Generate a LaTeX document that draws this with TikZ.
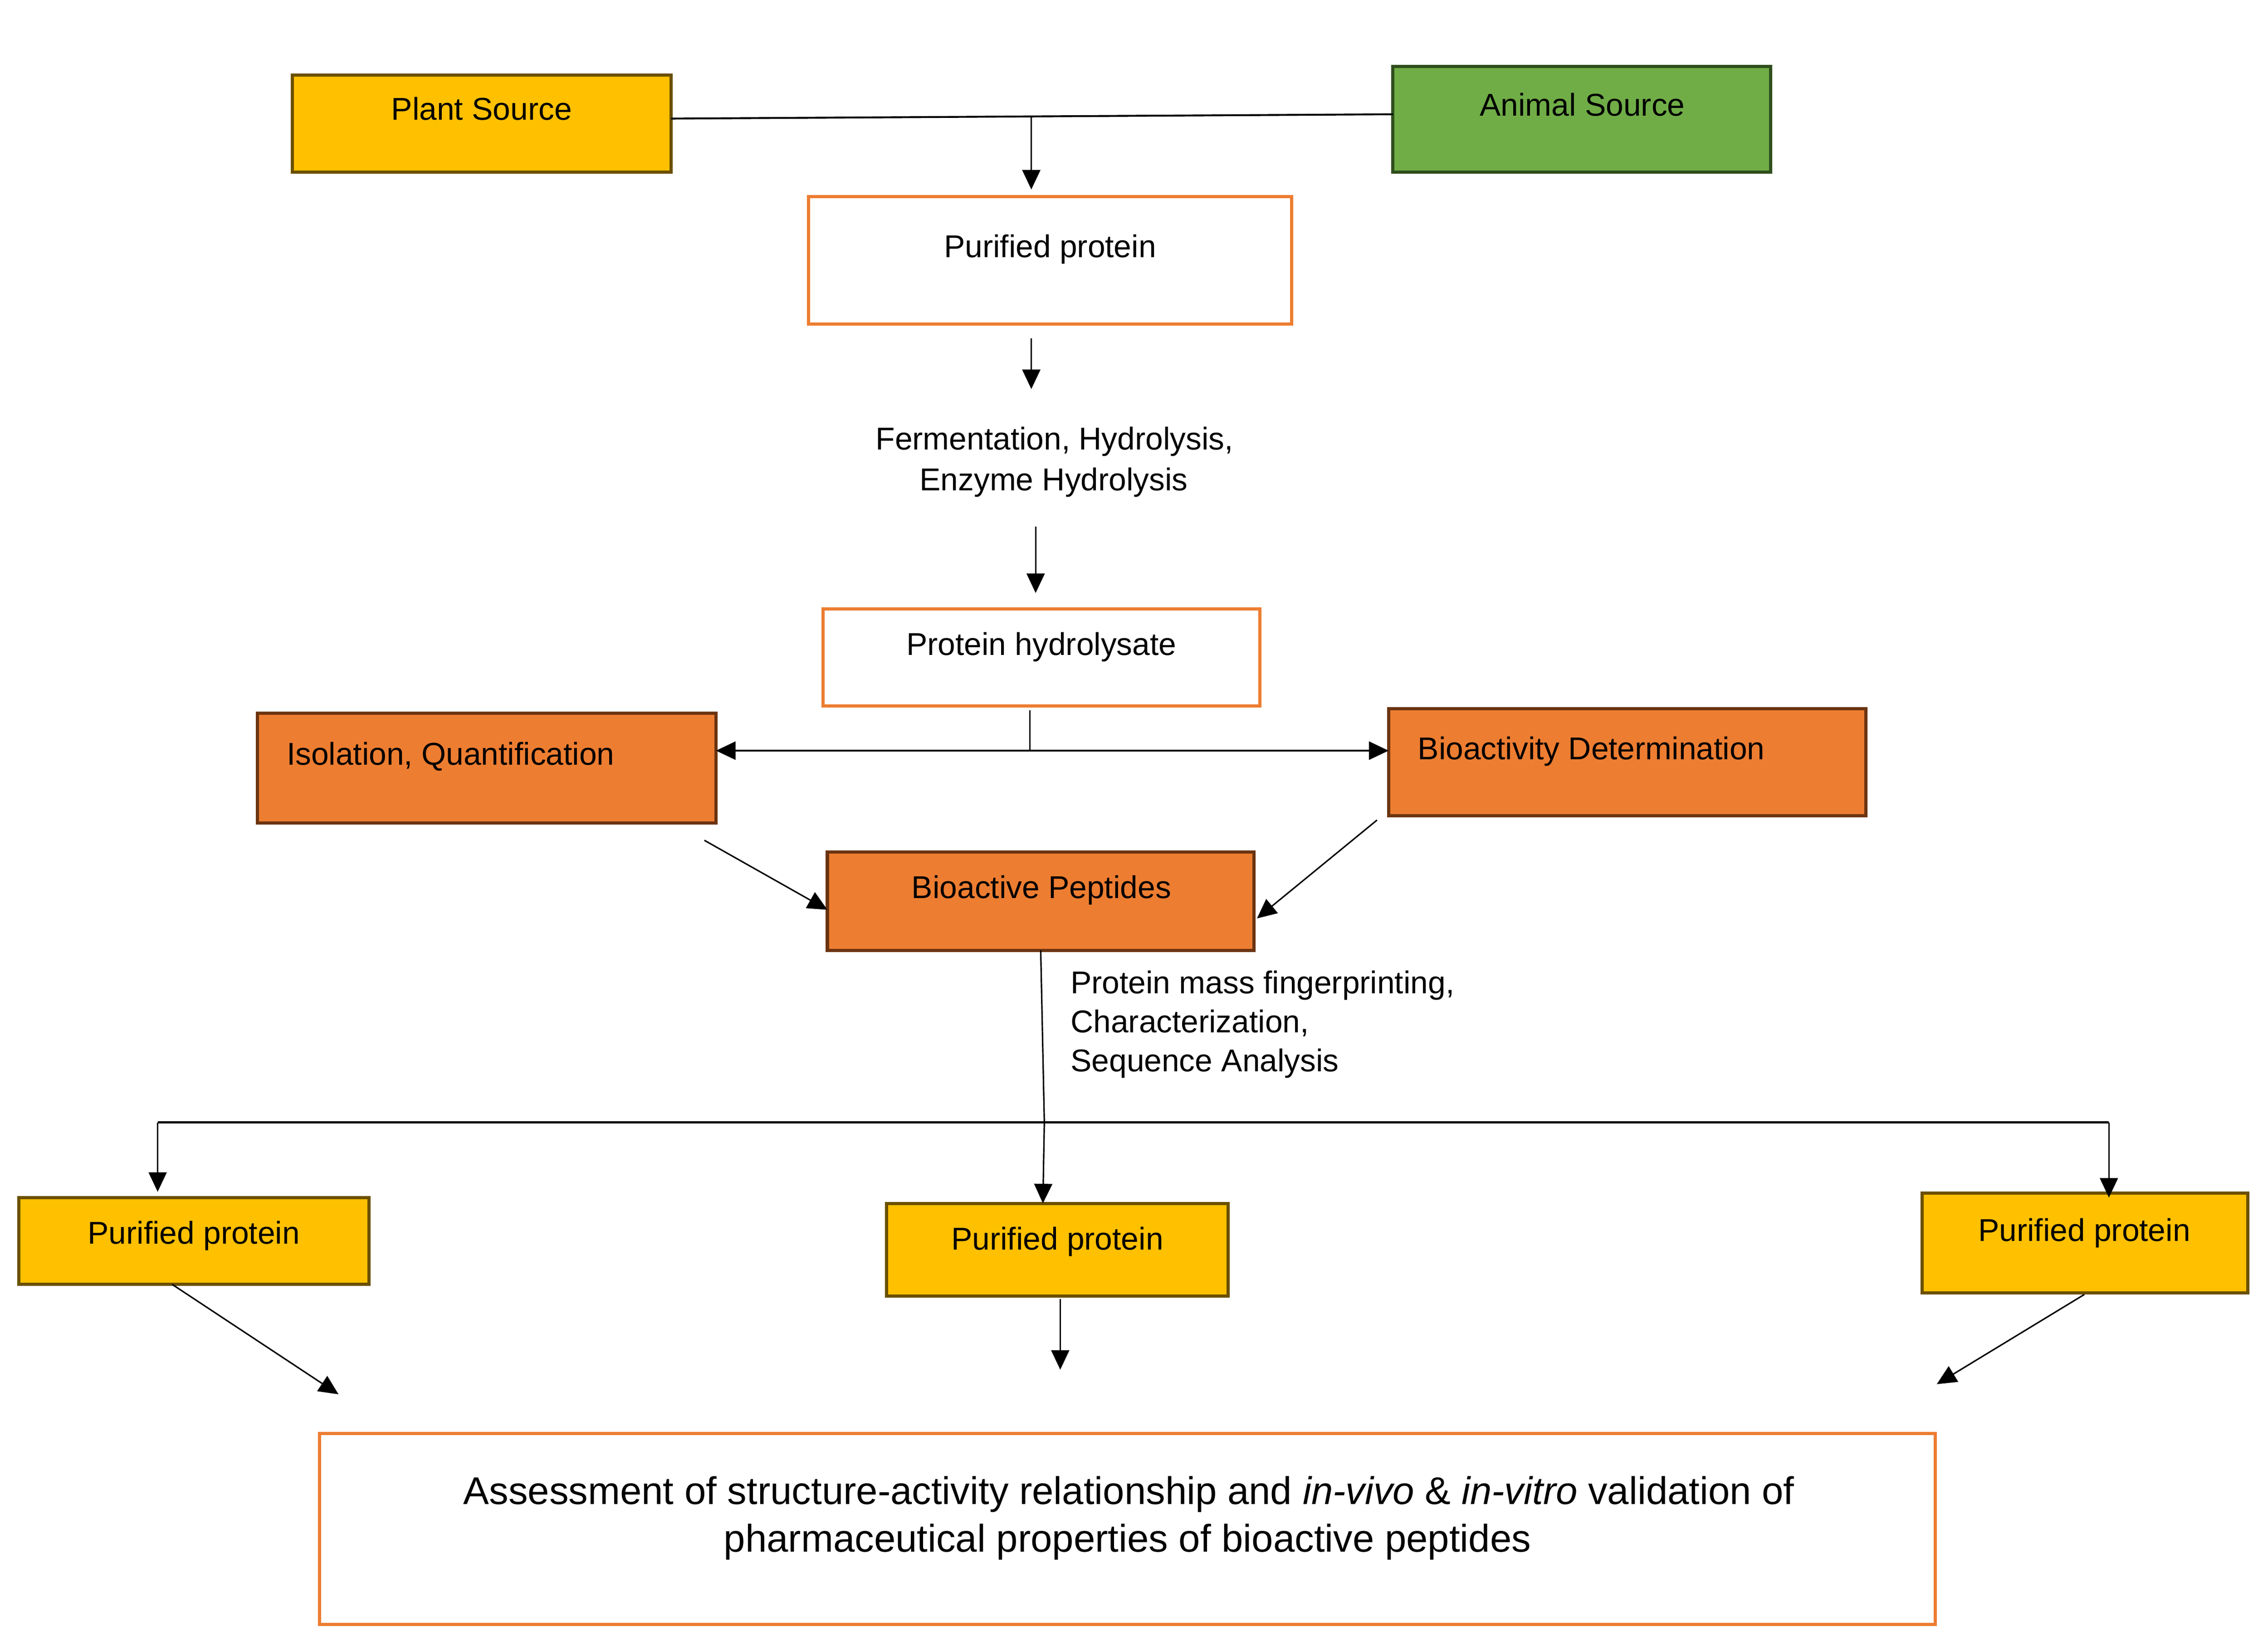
\documentclass[tikz,border=0pt]{standalone}
\usepackage{fontspec}
\setmainfont{Liberation Sans}
\usetikzlibrary{arrows.meta}
\definecolor{yel}{HTML}{FFC000}
\definecolor{yelb}{HTML}{6B5000}
\definecolor{grn}{HTML}{70AD47}
\definecolor{grnb}{HTML}{2F4F1C}
\definecolor{org}{HTML}{ED7D31}
\definecolor{orgb}{HTML}{6B3410}
\begin{document}
\begin{tikzpicture}[x=1pt,y=-1pt,
  box/.style={line width=2.2pt, inner sep=0pt, outer sep=0pt},
  ybox/.style={box, fill=yel, draw=yelb},
  gbox/.style={box, fill=grn, draw=grnb},
  obox/.style={box, fill=org, draw=orgb},
  wbox/.style={box, fill=white, draw=org},
  txt/.style={inner sep=0pt, font=\fontsize{21.8}{26}\selectfont},
  bigtxt/.style={inner sep=0pt, font=\fontsize{26.7}{31}\selectfont},
  arr/.style={-{Triangle[length=13.5pt,width=12.5pt]}, line width=1pt},
  ln/.style={line width=1pt}]
\useasboundingbox (0,0) rectangle (1568,1137.8);
% boxes
\node[ybox, minimum width=262pt, minimum height=67pt] (plant) at (333,85.5) {};
\node[gbox, minimum width=261pt, minimum height=73pt] (animal) at (1093.5,82.5) {};
\node[wbox, minimum width=334pt, minimum height=88pt] (pp) at (726,180) {};
\node[wbox, minimum width=302pt, minimum height=67pt] (hydro) at (720,454.5) {};
\node[obox, minimum width=317pt, minimum height=76pt] (iso) at (336.5,531) {};
\node[obox, minimum width=330pt, minimum height=74pt] (bio) at (1125,527) {};
\node[obox, minimum width=295pt, minimum height=68pt] (bp) at (719.5,623) {};
\node[ybox, minimum width=242pt, minimum height=60pt] (pl) at (134,858) {};
\node[ybox, minimum width=236pt, minimum height=64pt] (pm) at (731,864) {};
\node[ybox, minimum width=225pt, minimum height=69pt] (pr) at (1441.5,859.5) {};
\node[wbox, minimum width=1117pt, minimum height=132pt] (final) at (779.5,1057) {};
% texts
\node[txt, anchor=base] (plantT) at (333,83) {Plant Source};
\node[txt, anchor=base] (animalT) at (1094,80) {Animal Source};
\node[txt, anchor=base] (ppT) at (726,178) {Purified protein};
\node[txt, anchor=base] (ferm1) at (729,311) {Fermentation, Hydrolysis,};
\node[txt, anchor=base] (ferm2) at (728.5,339) {Enzyme Hydrolysis};
\node[txt, anchor=base] (hydroT) at (720,453) {Protein hydrolysate};
\node[txt, anchor=base west] (isoT) at (198,529) {Isolation, Quantification};
\node[txt, anchor=base west] (bioT) at (980,525) {Bioactivity Determination};
\node[txt, anchor=base] (bpT) at (720,621) {Bioactive Peptides};
\node[txt, anchor=base west] (ms1) at (740,687) {Protein mass fingerprinting,};
\node[txt, anchor=base west] (ms2) at (740,714) {Characterization,};
\node[txt, anchor=base west] (ms3) at (740,741) {Sequence Analysis};
\node[txt, anchor=base] (plT) at (134,860) {Purified protein};
\node[txt, anchor=base] (pmT) at (731,864) {Purified protein};
\node[txt, anchor=base] (prT) at (1441,858) {Purified protein};
\node[bigtxt, anchor=base] (fin1) at (780.5,1040) {Assessment of structure-activity relationship and \textit{in-vivo} \& \textit{in-vitro} validation of};
\node[bigtxt, anchor=base] (fin2) at (779.5,1073) {pharmaceutical properties of bioactive peptides};
% junctions and free ends
\coordinate (j1) at (713,81);
\coordinate (a1s) at (713,234);
\coordinate (a1e) at (713,269);
\coordinate (a2s) at (716,364);
\coordinate (a2e) at (716,410);
\coordinate (h1) at (712,491);
\coordinate (j2) at (712,519);
\coordinate (isoS) at (487,581);
\coordinate (bpW) at (572,629);
\coordinate (bioS) at (952,567);
\coordinate (bpE) at (869,635);
\coordinate (j3) at (722,776);
\coordinate (jl) at (109,776);
\coordinate (jr) at (1458,776);
\coordinate (plA) at (109,824);
\coordinate (prA) at (1458,828);
\coordinate (plS) at (119,888);
\coordinate (plE) at (234,964);
\coordinate (pmS) at (733,898);
\coordinate (pmE) at (733,947);
\coordinate (prS) at (1441,895);
\coordinate (prE) at (1339,957);
% connectors
\draw[line width=1.3pt] ([yshift=3.5pt]plant.east) -- ([yshift=3.5pt]animal.west);
\draw[arr] (j1) -- (j1 |- pp.north) [shorten >=5pt];
\draw[arr] (a1s) -- (a1e);
\draw[arr] (a2s) -- (a2e);
\draw[ln] (h1) -- (j2);
\draw[arr, line width=1.3pt] (j2) -- (iso.east |- j2);
\draw[arr, line width=1.3pt] (j2) -- (bio.west |- j2);
\draw[arr] (isoS) -- (bpW);
\draw[arr] (bioS) -- (bpE);
\draw[ln] (bp.south) -- (j3);
\draw[arr] (j3) -- (721,832);
\draw[line width=1.3pt] (jl) -- (jr);
\draw[arr] (jl) -- (plA);
\draw[arr] (jr) -- (prA);
\draw[arr] (plS) -- (plE);
\draw[arr] (pmS) -- (pmE);
\draw[arr] (prS) -- (prE);
\end{tikzpicture}
\end{document}
